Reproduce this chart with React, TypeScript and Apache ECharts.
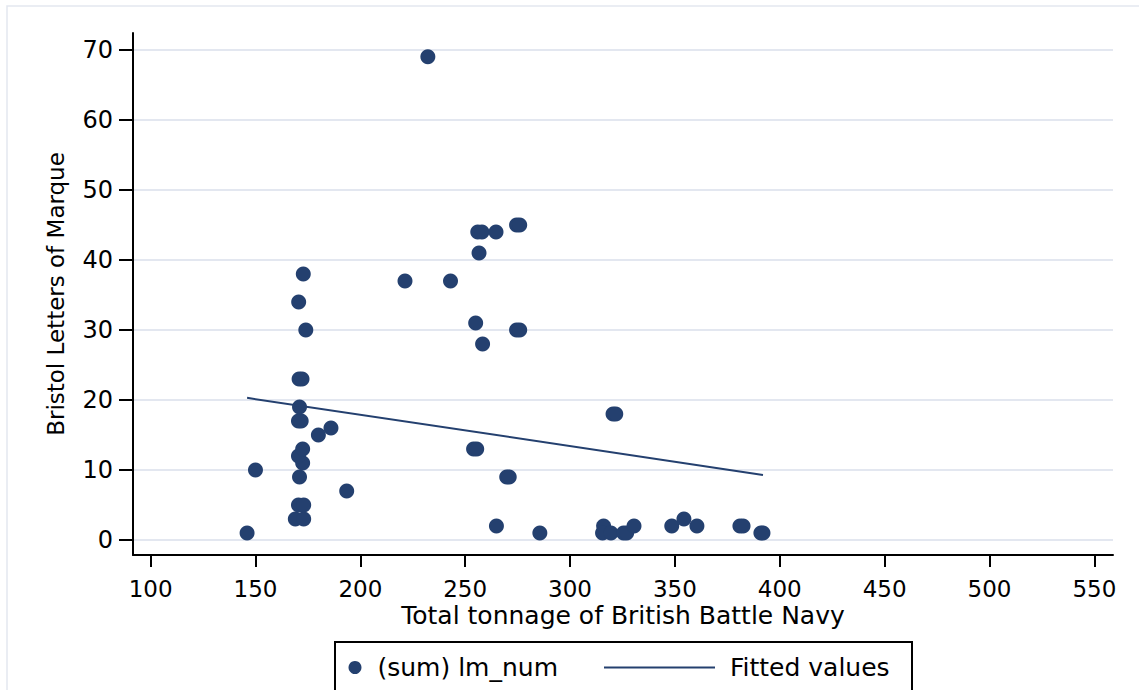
import React, { useEffect, useRef } from "react";
import * as echarts from "echarts";

const FONT = "DejaVu Sans";

// Scatter observations: total tonnage (x) vs Bristol letters of marque (y)
const tonnage = [
  146, 150, 169, 173, 170.5, 173, 193.5, 171, 172.5, 170.5, 172.5, 170.5, 171.8,
  171, 170.8, 172.2, 180, 186, 174, 170.6, 172.8, 221.3, 243, 232.2, 256, 258,
  264.7, 274.5, 276, 256.6, 255, 274.5, 276, 258.3, 320.5, 321.8, 254, 255.5,
  269.8, 271, 264.9, 285.6, 316, 315.5, 319.5, 325.5, 327, 330.5, 348.5, 354.3,
  360.5, 381, 382.5, 391, 392,
];
const letters = [
  1, 10, 3, 3, 5, 5, 7, 9, 11, 12, 13, 17, 17,
  19, 23, 23, 15, 16, 30, 34, 38, 37, 37, 69, 44, 44,
  44, 45, 45, 41, 31, 30, 30, 28, 18, 18, 13, 13,
  9, 9, 2, 1, 2, 1, 1, 1, 1, 2, 2, 3,
  2, 2, 2, 1, 1,
];

// Fitted line end points
const fittedX = [146, 392];
const fittedY = [20.3, 9.3];

const xTicks = [100, 150, 200, 250, 300, 350, 400, 450, 500, 550];
const yTicks = [0, 10, 20, 30, 40, 50, 60, 70];

const xTitle = "Total tonnage of British Battle Navy";
const yTitle = "Bristol Letters of Marque";
const seriesNames = ["(sum) lm_num", "Fitted values"];

const NAVY = "#24406f";

export default function App() {
  const ref = useRef<HTMLDivElement>(null);
  useEffect(() => {
    if (!ref.current) return;
    const chart = echarts.init(ref.current, undefined, { renderer: "svg" });
    const scatterData = tonnage.map((x, i) => [x, letters[i]]);
    const lineData = fittedX.map((x, i) => [x, fittedY[i]]);
    chart.setOption({
      animation: false,
      backgroundColor: "#ffffff",
      textStyle: { fontFamily: FONT, color: "#000" },
      grid: {
        left: 133,
        right: 26,
        top: 33,
        bottom: 135,
        containLabel: false,
        outerBoundsMode: "none",
      },
      xAxis: {
        type: "value",
        min: 91.6,
        max: 558.9,
        axisLine: { show: true, onZero: false, lineStyle: { color: "#000", width: 2 } },
        axisTick: {
          show: true,
          length: 12,
          customValues: xTicks,
          lineStyle: { color: "#000", width: 2 },
        },
        axisLabel: {
          customValues: xTicks,
          margin: 25,
          fontSize: 23,
          lineHeight: 18,
          fontFamily: FONT,
          color: "#000",
        },
        splitLine: { show: false },
        name: xTitle,
        nameLocation: "middle",
        nameGap: 50.5,
        nameMoveOverlap: false,
        nameTextStyle: { fontSize: 25, lineHeight: 20, fontFamily: FONT, color: "#000" },
      },
      yAxis: {
        type: "value",
        min: -2.14,
        max: 72.4,
        axisLine: { show: true, onZero: false, lineStyle: { color: "#000", width: 2 } },
        axisTick: {
          show: true,
          length: 14,
          customValues: yTicks,
          lineStyle: { color: "#000", width: 2 },
        },
        axisLabel: {
          customValues: yTicks,
          margin: 20,
          fontSize: 24,
          fontFamily: FONT,
          color: "#000",
        },
        splitLine: { show: true, lineStyle: { color: "#e3e7f0", width: 2 } },
        name: yTitle,
        nameLocation: "middle",
        nameGap: 66,
        nameRotate: 90,
        nameMoveOverlap: false,
        nameTextStyle: { fontSize: 23, fontFamily: FONT, color: "#000" },
      },
      legend: [
        {
          data: [{ name: seriesNames[0], icon: "circle" }],
          left: 348.5,
          top: 655,
          padding: 0,
          itemWidth: 13,
          itemHeight: 13,
          selectedMode: false,
          textStyle: {
            fontSize: 25,
            fontFamily: FONT,
            color: "#000",
            lineHeight: 24,
            padding: [0, 0, 0, 11],
          },
        },
        {
          data: [{ name: seriesNames[1], icon: "rect" }],
          left: 604,
          top: 655,
          padding: 0,
          itemWidth: 111,
          itemHeight: 2,
          selectedMode: false,
          textStyle: {
            fontSize: 25,
            fontFamily: FONT,
            color: "#000",
            lineHeight: 24,
            padding: [0, 0, 0, 10],
          },
        },
      ],
      graphic: [
        {
          type: "rect",
          z: -10,
          silent: true,
          shape: { x: 7, y: 6, width: 1400, height: 1000 },
          style: { fill: "none", stroke: "#e3e7f0", lineWidth: 1.5 },
        },
        {
          type: "rect",
          silent: true,
          shape: { x: 335, y: 642, width: 577, height: 120 },
          style: { fill: "none", stroke: "#000", lineWidth: 2 },
        },
      ],
      series: [
        {
          name: seriesNames[0],
          type: "scatter",
          data: scatterData,
          symbol: "circle",
          symbolSize: 15,
          itemStyle: { color: NAVY, opacity: 1 },
          z: 3,
        },
        {
          name: seriesNames[1],
          type: "line",
          data: lineData,
          showSymbol: false,
          symbol: "none",
          color: NAVY,
          lineStyle: { color: NAVY, width: 2 },
          itemStyle: { color: NAVY },
          z: 4,
        },
      ],
    });
    return () => chart.dispose();
  }, []);
  return (
    <div
      ref={ref}
      style={{ position: "absolute", left: 0, top: 0, width: 1139, height: 690 }}
    />
  );
}
